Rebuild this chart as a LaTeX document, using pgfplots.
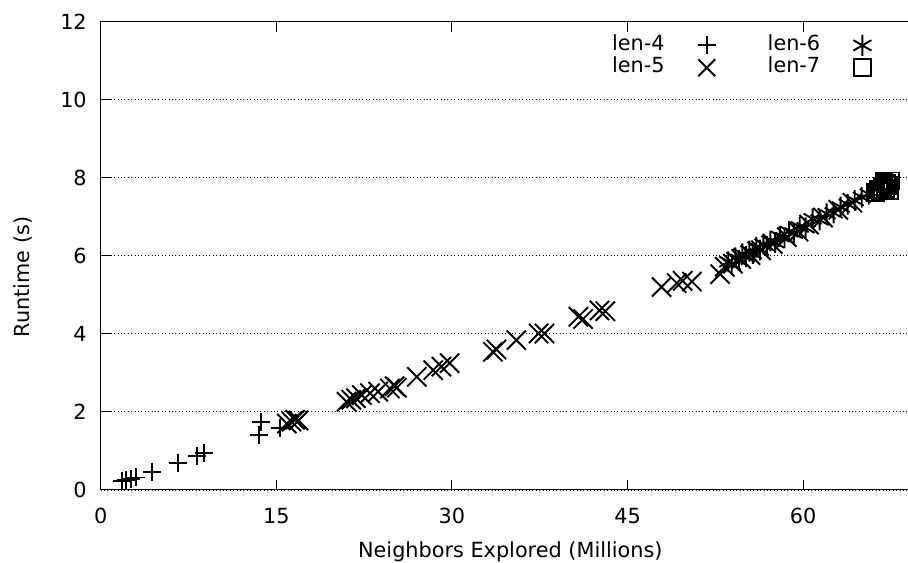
\documentclass[border=0pt]{standalone}
\usepackage{fontspec}
\setmainfont{DejaVu Sans}
\usepackage{pgfplots}
\pgfplotsset{compat=1.18}

\begin{document}
\begin{tikzpicture}
\begin{axis}[
    scale only axis,
    width=404pt, height=234.15pt,
    xmin=0, xmax=69, ymin=0, ymax=12,
    xtick={0,15,30,45,60},
    ytick={0,2,4,6,8,10,12},
    ytick pos=left,
    tick align=inside,
    major tick length=5pt,
    tick style={black, line width=0.5pt},
    axis line style={line width=0.5pt},
    ymajorgrids,
    grid style={black, line width=0.45pt, dash pattern=on 0.45pt off 1.25pt},
    font=\fontsize{10.4pt}{12.5pt}\selectfont,
    /pgf/number format/assume math mode=true,
    xticklabel style={yshift=-5.6pt},
    yticklabel style={xshift=-3.45pt},
    xlabel={Neighbors Explored (Millions)},
    ylabel={Runtime (s)},
    xlabel style={at={(axis description cs:0.507,-0.132)}, anchor=center},
    ylabel style={at={(axis description cs:-0.0956,0.455)}, anchor=center},
    legend plot pos=right,
    legend cell align=right,
    legend columns=2,
    legend image code/.code={\draw[#1] plot coordinates {(0pt,0pt)};},
    legend style={draw=none, fill=none, inner sep=0pt, outer sep=0pt,
        at={(axis description cs:0.954,0.9716)}, anchor=north east,
        nodes={inner sep=0pt, text height=7.6pt, text depth=2.4pt},
        row sep=1pt,
        /tikz/every odd column/.append style={column sep=16.6pt},
        /tikz/every even column/.append style={column sep=26pt}},
    every axis plot/.append style={only marks, black, mark options={line width=0.95pt}},
]
% len-4
\addplot[forget plot, mark=+, mark size=4.5pt] coordinates {
  (1.8,0.22) (2.2,0.25) (2.6,0.28) (3.0,0.32) (4.4,0.47) (6.6,0.70)
  (8.2,0.88) (8.8,0.95) (13.5,1.41) (13.7,1.73) (15.3,1.58)
};
% len-5
\addplot[forget plot, mark=x, mark size=6.8pt] coordinates {
  (15.9,1.70) (16.3,1.75) (16.6,1.80) (16.9,1.78)
  (21.0,2.26) (21.4,2.31) (21.8,2.35) (22.3,2.43) (23.0,2.48) (23.7,2.52)
  (24.7,2.60) (25.1,2.66) (25.3,2.62) (27.0,2.90) (28.4,3.07) (29.1,3.16)
  (29.8,3.25) (33.5,3.54) (33.8,3.60) (35.5,3.84) (37.4,4.01) (37.9,4.01)
  (40.8,4.44) (41.2,4.38) (42.6,4.60) (43.1,4.58) (47.9,5.20) (49.2,5.30)
  (49.7,5.36) (50.5,5.34) (52.9,5.53)
  (53.3,5.72) (54.0,5.80) (54.7,5.92) (55.5,6.02) (56.4,6.14) (57.4,6.30)
  (58.6,6.48) (59.6,6.62) (60.5,6.80) (61.7,6.98) (63.0,7.18) (64.2,7.36)
};
% len-6
\addplot[forget plot, mark=asterisk, mark size=5.2pt] coordinates {
  (53.6,5.85) (53.9,5.78) (54.2,5.95) (54.5,5.88) (54.8,6.05) (55.1,5.98)
  (55.4,6.12) (55.7,6.06) (56.0,6.22) (56.3,6.15) (56.6,6.30) (56.9,6.24)
  (57.2,6.38) (57.6,6.34) (58.0,6.50) (58.4,6.46) (58.8,6.62) (59.2,6.58)
  (59.7,6.74) (60.2,6.72) (60.8,6.95) (61.4,6.92) (62.0,7.08) (62.6,7.10)
  (63.2,7.25) (63.8,7.32) (64.4,7.42) (65.0,7.50) (65.6,7.58)
};
% len-7
\addplot[forget plot, mark=square, mark size=4.2pt] coordinates {
  (66.2,7.62) (66.4,7.70) (66.6,7.66) (66.8,7.78) (67.0,7.72) (67.1,7.86)
  (67.3,7.80) (67.5,7.92) (67.4,7.68) (66.9,7.90)
};
\addlegendimage{only marks, black, mark=+, mark size=4.5pt, mark options={line width=0.95pt}}
\addlegendentry{len-4}
\addlegendimage{only marks, black, mark=asterisk, mark size=5.2pt, mark options={line width=0.95pt}}
\addlegendentry{len-6}
\addlegendimage{only marks, black, mark=x, mark size=6pt, mark options={line width=0.95pt}}
\addlegendentry{len-5}
\addlegendimage{only marks, black, mark=square, mark size=4.2pt, mark options={line width=0.95pt}}
\addlegendentry{len-7}
\end{axis}
\pgfresetboundingbox
\useasboundingbox ([xshift=-50.35pt,yshift=-36.5pt]current axis.south west)
  rectangle ([xshift=-0.3pt,yshift=10.85pt]current axis.north east);
\end{tikzpicture}
\end{document}
